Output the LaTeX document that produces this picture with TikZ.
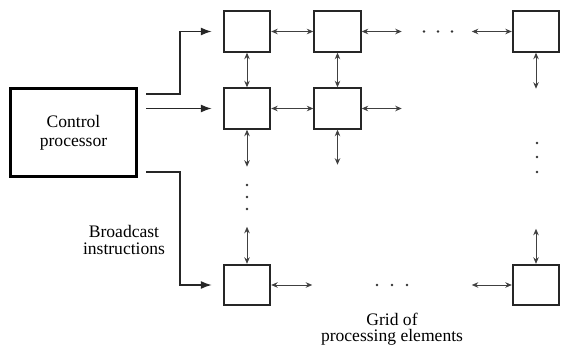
\documentclass[tikz,border=0pt]{standalone}
\usepackage{fontspec}
\setmainfont{Liberation Serif}
\usetikzlibrary{arrows.meta,calc}

\begin{document}
\begin{tikzpicture}[
  x=0.02cm, y=-0.02cm,
  font=\fontsize{10}{11}\selectfont,
  ctrlbox/.style={draw=black, line width=1.7pt, minimum width=2.54cm, minimum height=1.78cm,
                  align=center, inner sep=0pt},
  pebox/.style={draw=black!85, line width=1.1pt, minimum width=0.93cm, minimum height=0.81cm,
                inner sep=0pt},
  bcast/.style={-{Latex[length=2.2mm, width=1.6mm]}, line width=0.8pt, draw=black!85},
  link/.style={{Stealth[length=1.3mm, width=1.1mm]}-{Stealth[length=1.3mm, width=1.1mm]},
               line width=0.5pt, draw=black!75},
  lbl/.style={align=center, font=\fontsize{10}{9.2}\selectfont},
]
\useasboundingbox (0,0) rectangle (561,348);

% ---- control processor ----
\node[ctrlbox] (ctrl) at (73.5,132.5) {Control\\processor};

% ---- grid of processing elements ----
\node[pebox] (pe11) at (247,31.5)  {};
\node[pebox] (pe12) at (337.5,31.5) {};
\node[pebox] (pe1n) at (536,31.5)  {};
\node[pebox] (pe21) at (247,108.5) {};
\node[pebox] (pe22) at (337.5,108.5) {};
\node[pebox] (pe31) at (247,285)   {};
\node[pebox] (pe3n) at (536,285)   {};

% ---- broadcast instructions ----
\coordinate (b1) at (146,94);
\coordinate (b2) at (146,108.5);
\coordinate (b3) at (146,172);
\draw[bcast] (b1) -- ++(34,0) |- ($(pe11.west)+(-11,0)$);
\draw[bcast] (b2) -- ($(pe21.west)+(-11,0)$);
\draw[bcast] (b3) -- ++(34,0) |- ($(pe31.west)+(-11,0)$);
\node[lbl] (bi) at (124,240) {Broadcast\\instructions};

% ---- free ends of the grid links ----
\coordinate (r1a) at ($(pe12.east)+(40,0)$);
\coordinate (r1b) at ($(pe1n.west)+(-40,0)$);
\coordinate (r2a) at ($(pe22.east)+(40,0)$);
\coordinate (r3a) at ($(pe31.east)+(41,0)$);
\coordinate (r3b) at ($(pe3n.west)+(-40,0)$);
\coordinate (c1a) at ($(pe21.south)+(0,37)$);
\coordinate (c1b) at ($(pe31.north)+(0,-37)$);
\coordinate (c2a) at ($(pe22.south)+(0,35)$);
\coordinate (cna) at ($(pe1n.south)+(0,36)$);
\coordinate (cnb) at ($(pe3n.north)+(0,-35)$);

% ---- neighbour links ----
\draw[link] (pe11.east) -- (pe12.west);
\draw[link] (pe12.east) -- (r1a);
\draw[link] (r1b) -- (pe1n.west);
\draw[link] (pe21.east) -- (pe22.west);
\draw[link] (pe22.east) -- (r2a);
\draw[link] (pe31.east) -- (r3a);
\draw[link] (r3b) -- (pe3n.west);
\draw[link] (pe11.south) -- (pe21.north);
\draw[link] (pe12.south) -- (pe22.north);
\draw[link] (pe21.south) -- (c1a);
\draw[link] (c1b) -- (pe31.north);
\draw[link] (pe22.south) -- (c2a);
\draw[link] (pe1n.south) -- (cna);
\draw[link] (cnb) -- (pe3n.north);

% ---- ellipses ----
\foreach \x in {424,438,452} \fill[black!80] (\x,31.5) circle (1.4);
\foreach \x in {377,392,407} \fill[black!80] (\x,285) circle (1.4);
\foreach \y in {185,197,209} \fill[black!80] (247,\y) circle (1.4);
\foreach \y in {143,157,172} \fill[black!80] (537,\y) circle (1.4);

\node[lbl] (grid) at (392,329) {Grid of\\processing elements};
\end{tikzpicture}
\end{document}
